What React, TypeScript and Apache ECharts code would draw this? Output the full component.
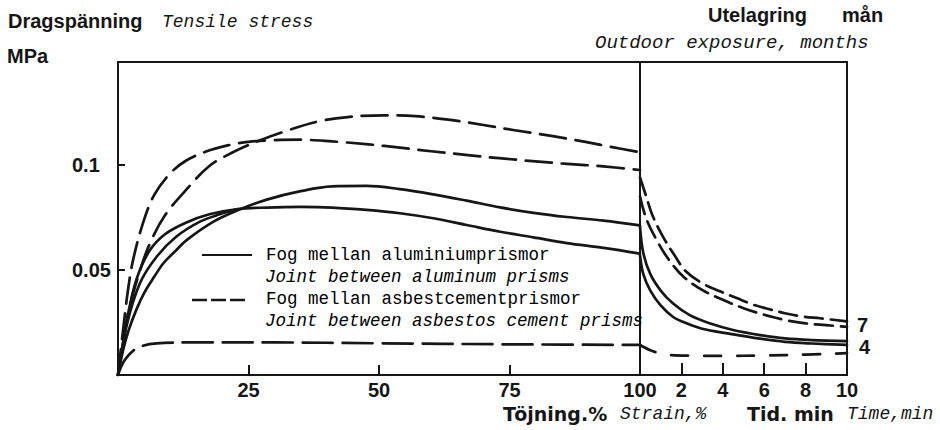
import React, { useEffect, useRef } from "react";
import * as echarts from "echarts";

// ---- Left panel: strain, % ----
const strainA = [0, 1, 2, 4, 6, 9, 13, 17.5, 22, 27, 32, 38, 44, 51, 57, 64, 70, 76, 83, 89, 94, 100];
const stressA = [0, 0.015, 0.03, 0.048, 0.062, 0.076, 0.088, 0.0995, 0.106, 0.1115, 0.116, 0.1205, 0.1228, 0.1236, 0.1232, 0.1213, 0.119, 0.1165, 0.1138, 0.1112, 0.1088, 0.106];

const strainB = [0, 1, 2, 3, 5, 7, 10, 13, 17, 21, 25, 30, 35, 41, 48, 54, 60, 67, 73, 80, 86, 93, 100];
const stressB = [0, 0.022, 0.042, 0.056, 0.074, 0.086, 0.096, 0.102, 0.1065, 0.1093, 0.111, 0.1118, 0.112, 0.1112, 0.1098, 0.1082, 0.1065, 0.1047, 0.1032, 0.1017, 0.1005, 0.0993, 0.0976];

const strainC = [0, 1, 2, 3.5, 5, 7, 8.7, 11, 13.2, 18.3, 23.4, 28.5, 35, 41, 47.6, 54, 60.4, 66.8, 73.2, 79.6, 86, 93, 100];
const stressC = [0, 0.012, 0.021, 0.031, 0.039, 0.047, 0.0532, 0.059, 0.0643, 0.073, 0.0789, 0.0835, 0.0875, 0.0898, 0.09, 0.0885, 0.086, 0.083, 0.0798, 0.0772, 0.0752, 0.0735, 0.0712];

const strainD = [0, 1, 2, 3.6, 6, 9, 13, 17.5, 23, 28.5, 35, 41, 47.6, 54, 60.4, 66.8, 73.2, 79.6, 86, 93, 100];
const stressD = [0, 0.016, 0.03, 0.046, 0.059, 0.067, 0.0725, 0.0765, 0.079, 0.0797, 0.08, 0.0797, 0.0786, 0.077, 0.0746, 0.0714, 0.0682, 0.0655, 0.0628, 0.0605, 0.0578];

const strainD2 = [0, 1.7, 4.2, 7.4, 11.2, 15.7, 19.5, 23];
const stressD2 = [0, 0.024, 0.0437, 0.0563, 0.0659, 0.073, 0.0765, 0.079];

const strainE = [0, 1.3, 3.6, 7.4, 15, 30, 50, 75, 100];
const stressE = [0, 0.0071, 0.0127, 0.0151, 0.0155, 0.0155, 0.0151, 0.0146, 0.0143];

// ---- Right panel: time, min ----
const timeA = [0, 0.3, 0.6, 1.1, 1.7, 2.2, 3, 3.9, 4.7, 5.5, 6.3, 7, 7.9, 8.7, 10];
const decayA = [0.094, 0.085, 0.076, 0.066, 0.0565, 0.0495, 0.0437, 0.0397, 0.0365, 0.0334, 0.0312, 0.0294, 0.0278, 0.027, 0.0255];

const timeB = [0, 0.3, 0.8, 1.4, 2.1, 3, 4, 5, 6, 7, 8, 9, 10];
const decayB = [0.085, 0.0745, 0.0643, 0.0548, 0.0468, 0.0405, 0.0358, 0.0318, 0.0287, 0.0262, 0.0246, 0.0237, 0.0229];

const timeC = [0, 0.16, 0.5, 1, 1.6, 2.4, 3.4, 4.5, 5.8, 7, 8.3, 10];
const decayC = [0.0706, 0.058, 0.048, 0.0402, 0.034, 0.0285, 0.0245, 0.0214, 0.019, 0.0174, 0.0166, 0.0161];

const timeD = [0, 0.16, 0.5, 1, 1.6, 2.1, 3, 4.3, 5.8, 7, 8.3, 10];
const decayD = [0.057, 0.048, 0.0402, 0.0331, 0.0276, 0.0252, 0.022, 0.0197, 0.0173, 0.0158, 0.015, 0.0143];

const timeE = [0, 0.5, 1, 1.5, 2.5, 4, 6, 8, 10];
const decayE = [0.0143, 0.0118, 0.0102, 0.0095, 0.0092, 0.0091, 0.0093, 0.0097, 0.0104];

const INK = "#161616";
const SANS = "'Liberation Sans', Arial, sans-serif";
const WIDE = "'DejaVu Sans', 'Liberation Sans', sans-serif";
const MONO = "'Liberation Mono', 'DejaVu Sans Mono', monospace";

const pairs = (xs: number[], ys: number[]) => xs.map((x, i) => [x, ys[i]]);

function line(name: string, xs: number[], ys: number[], panel: number, dash?: number[]) {
  return {
    name,
    type: "line",
    xAxisIndex: panel,
    yAxisIndex: panel,
    data: pairs(xs, ys),
    smooth: 0.35,
    showSymbol: false,
    silent: true,
    lineStyle: { color: INK, width: 2.7, type: dash ? dash : "solid", cap: "round", join: "round" },
  };
}

export default function App() {
  const ref = useRef<HTMLDivElement>(null);
  useEffect(() => {
    document.body.style.margin = "0";
    const chart = echarts.init(ref.current!, null, { renderer: "svg" });
    const axisLabelBase = { color: INK, fontFamily: SANS, fontWeight: "bold", fontSize: 20 };
    const tickStyle = { color: INK, width: 2 };
    const option: any = {
      animation: false,
      backgroundColor: "#fff",
      grid: [
        { left: 118, top: 62, width: 522, height: 313, show: true, borderColor: INK, borderWidth: 2, backgroundColor: "transparent", outerBoundsMode: "none" },
        { left: 640, top: 62, width: 207, height: 313, show: true, borderColor: INK, borderWidth: 2, backgroundColor: "transparent", outerBoundsMode: "none" },
      ],
      xAxis: [
        {
          type: "value", gridIndex: 0, min: 0, max: 100, interval: 25,
          axisLine: { show: true, lineStyle: tickStyle },
          axisTick: { show: true, inside: true, length: 10, lineStyle: tickStyle },
          splitLine: { show: false },
          axisLabel: { ...axisLabelBase, margin: 5, formatter: (v: number) => (v === 0 ? "" : String(v)) },
        },
        {
          type: "value", gridIndex: 1, min: 0, max: 10, interval: 2,
          axisLine: { show: true, lineStyle: tickStyle },
          axisTick: { show: true, inside: true, length: 12, lineStyle: tickStyle },
          splitLine: { show: false },
          axisLabel: { ...axisLabelBase, margin: 5, formatter: (v: number) => (v === 0 ? "" : String(v)) },
        },
      ],
      yAxis: [
        {
          type: "value", gridIndex: 0, min: 0, max: 0.149, interval: 0.05,
          axisLine: { show: true, lineStyle: tickStyle },
          axisTick: { show: true, inside: true, length: 7, lineStyle: tickStyle },
          splitLine: { show: false },
          axisLabel: {
            ...axisLabelBase, align: "left", margin: 46, padding: [5, 0, 0, 0],
            formatter: (v: number) => (Math.abs(v - 0.05) < 1e-9 ? "0.05" : Math.abs(v - 0.1) < 1e-9 ? "0.1" : ""),
          },
        },
        { type: "value", gridIndex: 1, min: 0, max: 0.149, show: false, splitLine: { show: false } },
      ],
      series: [
        line("A", strainA, stressA, 0, [26, 10]),
        line("B", strainB, stressB, 0, [26, 10]),
        line("C", strainC, stressC, 0),
        line("D", strainD, stressD, 0),
        line("D2", strainD2, stressD2, 0),
        line("E", strainE, stressE, 0, [30, 10]),
        line("A2", timeA, decayA, 1, [18, 8]),
        line("B2", timeB, decayB, 1, [18, 8]),
        line("C2", timeC, decayC, 1),
        line("D2b", timeD, decayD, 1),
        line("E2", timeE, decayE, 1, [17, 16]),
      ],
      graphic: [
        { type: "text", x: 8, y: 21, style: { text: "Dragspänning", font: `bold 20px ${SANS}`, fill: INK, verticalAlign: "middle" } },
        { type: "text", x: 162, y: 22, style: { text: "Tensile stress", font: `italic 18px ${MONO}`, fill: INK, verticalAlign: "middle" } },
        { type: "text", x: 7, y: 56, style: { text: "MPa", font: `bold 20px ${SANS}`, fill: INK, verticalAlign: "middle" } },
        { type: "text", x: 708, y: 15, style: { text: "Utelagring", font: `bold 20px ${SANS}`, fill: INK, verticalAlign: "middle" } },
        { type: "text", x: 842, y: 15, style: { text: "mån", font: `bold 20px ${SANS}`, fill: INK, verticalAlign: "middle" } },
        { type: "text", x: 595, y: 43, style: { text: "Outdoor exposure, months", font: `italic 19px ${MONO}`, fill: INK, verticalAlign: "middle" } },
        { type: "text", x: 503, y: 414, style: { text: "Töjning.%", font: `bold 19px ${WIDE}`, fill: INK, verticalAlign: "middle" } },
        { type: "text", x: 620, y: 414, style: { text: "Strain,%", font: `italic 18px ${MONO}`, fill: INK, verticalAlign: "middle" } },
        { type: "text", x: 747, y: 414, style: { text: "Tid. min", font: `bold 19px ${WIDE}`, fill: INK, verticalAlign: "middle" } },
        { type: "text", x: 847, y: 414, style: { text: "Time,min", font: `italic 18px ${MONO}`, fill: INK, verticalAlign: "middle" } },
        { type: "text", x: 857, y: 325, style: { text: "7", font: `bold 20px ${SANS}`, fill: INK, verticalAlign: "middle" } },
        { type: "text", x: 859, y: 347, style: { text: "4", font: `bold 20px ${SANS}`, fill: INK, verticalAlign: "middle" } },
        { type: "line", shape: { x1: 202, y1: 255, x2: 252, y2: 255 }, style: { stroke: INK, lineWidth: 2 } },
        { type: "text", x: 266, y: 255, style: { text: "Fog mellan aluminiumprismor", font: `17.5px ${MONO}`, fill: "#000", verticalAlign: "middle" } },
        { type: "text", x: 265, y: 277, style: { text: "Joint between aluminum prisms", font: `italic 17.5px ${MONO}`, fill: "#000", verticalAlign: "middle" } },
        { type: "line", shape: { x1: 192, y1: 300, x2: 246, y2: 300 }, style: { stroke: INK, lineWidth: 2.6, lineDash: [15, 4] } },
        { type: "text", x: 266, y: 299, style: { text: "Fog mellan asbestcementprismor", font: `17.5px ${MONO}`, fill: "#000", verticalAlign: "middle" } },
        { type: "text", x: 265, y: 321, style: { text: "Joint between asbestos cement prisms", font: `italic 17.5px ${MONO}`, fill: "#000", verticalAlign: "middle" } },
      ],
    };
    chart.setOption(option);
    return () => chart.dispose();
  }, []);
  return <div ref={ref} style={{ width: 940, height: 430, background: "#fff" }} />;
}
